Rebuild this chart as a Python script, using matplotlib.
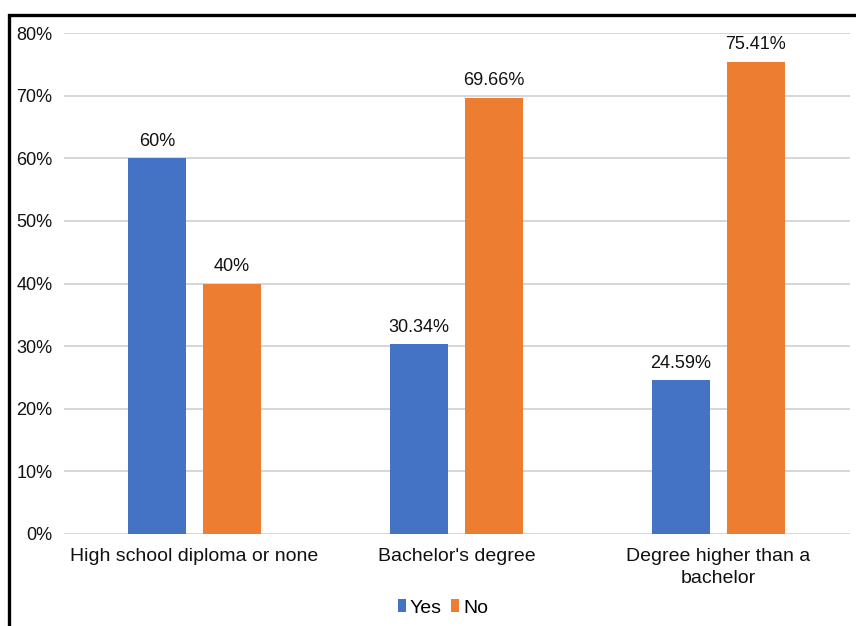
import matplotlib
matplotlib.use("Agg")
import matplotlib.pyplot as plt
import numpy as np
from matplotlib.patches import Rectangle

# --- data ---
categories = ["High school diploma or none", "Bachelor's degree", "Degree higher than a\nbachelor"]
yes_vals = [60, 30.34, 24.59]
no_vals = [40, 69.66, 75.41]
yes_labels = ["60%", "30.34%", "24.59%"]
no_labels = ["40%", "69.66%", "75.41%"]
yticks = [0, 10, 20, 30, 40, 50, 60, 70, 80]

plt.rcParams['font.family'] = ['Liberation Sans', 'DejaVu Sans']

fig = plt.figure(figsize=(8.56, 6.26), dpi=100)
ax = fig.add_axes([63.5 / 856, 1 - 534 / 626, 786 / 856, 501 / 626])

x = np.arange(len(categories))
w = 0.218
off = 0.143
b1 = ax.bar(x - off, yes_vals, w, color="#4472C4", label="Yes", zorder=3)
b2 = ax.bar(x + off, no_vals, w, color="#ED7D31", label="No", zorder=3)

for bars, labs in ((b1, yes_labels), (b2, no_labels)):
    for rect, lab in zip(bars, labs):
        ax.annotate(lab, (rect.get_x() + rect.get_width() / 2, rect.get_height()),
                    xytext=(0, 6), textcoords="offset points", ha="center", va="bottom",
                    fontsize=13, color="#111111")

ax.set_xlim(-0.5, len(categories) - 0.5)
ax.set_ylim(0, 80)
ax.set_yticks(yticks)
ax.set_yticklabels([f"{t}%" for t in yticks], fontsize=13, color="#111111")
ax.set_xticks(x)
ax.set_xticklabels(categories, fontsize=14, color="#111111", linespacing=1.4)
ax.tick_params(axis="x", length=0, pad=10)
ax.tick_params(axis="y", length=0, pad=8)
ax.grid(axis="y", color="#d0d0d0", linewidth=1.2, zorder=0)
for s in ax.spines.values():
    s.set_visible(False)

leg = fig.legend(loc="center", bbox_to_anchor=(443 / 856, 1 - 608 / 626), ncol=2,
                 frameon=False, fontsize=14, handlelength=0.4, handleheight=0.65,
                 handletextpad=0.2, columnspacing=0.5)

# black frame round the picture
fig.patches.append(Rectangle((8.5 / 856, -0.05), 1.2, 1 - 15.5 / 626 + 0.05,
                             transform=fig.transFigure, fill=False,
                             edgecolor="black", linewidth=2.4, zorder=10))

fig.savefig("out.png", dpi=100)
